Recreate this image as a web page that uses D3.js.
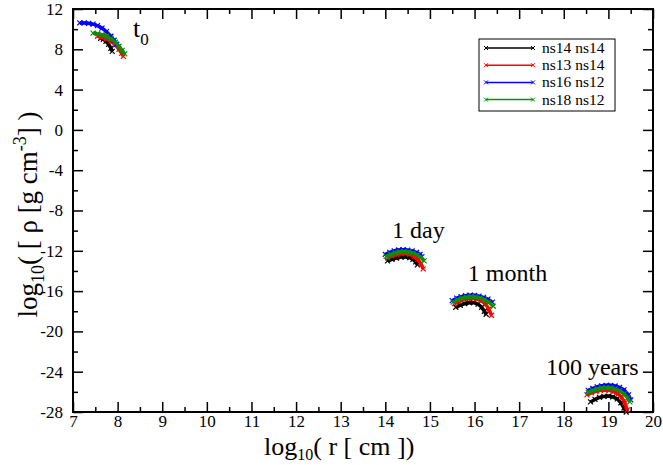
<!DOCTYPE html>
<html>
<head>
<meta charset="utf-8">
<script src="https://cdn.jsdelivr.net/npm/d3@7"></script>
<style>
  body { margin: 0; background: #fff; }
  text { font-family: "Liberation Serif", "Times New Roman", serif; }
</style>
</head>
<body>
<script>
// tick values
let xTicks = [7, 8, 9, 10, 11, 12, 13, 14, 15, 16, 17, 18, 19, 20];
let yTicks = [12, 8, 4, 0, -4, -8, -12, -16, -20, -24, -28];

// [log10 r, log10 rho], one array per model and epoch
let blackT0 = [[7.62, 9.1], [7.68, 9.0], [7.74, 8.8], [7.8, 8.5], [7.85, 8.1], [7.88, 7.8]];
let redT0 = [[7.55, 9.3], [7.65, 9.2], [7.75, 9.05], [7.85, 8.8], [7.95, 8.45], [8.03, 8.0], [8.09, 7.6], [8.13, 7.3]];
let blueT0 = [[7.15, 10.62], [7.25, 10.62], [7.35, 10.58], [7.45, 10.5], [7.55, 10.35], [7.65, 10.1], [7.75, 9.75], [7.85, 9.3], [7.92, 8.9], [7.98, 8.5]];
let greenT0 = [[7.45, 9.6], [7.55, 9.55], [7.65, 9.45], [7.75, 9.3], [7.85, 9.05], [7.95, 8.7], [8.03, 8.3], [8.1, 7.9], [8.16, 7.55]];

let blackDay = [[14.05, -13.0], [14.15, -12.85], [14.25, -12.72], [14.35, -12.62], [14.45, -12.6], [14.55, -12.68], [14.62, -12.85], [14.68, -13.1], [14.72, -13.4]];
let redDay = [[14.05, -12.7], [14.15, -12.5], [14.25, -12.35], [14.35, -12.28], [14.45, -12.28], [14.55, -12.35], [14.65, -12.55], [14.73, -12.85], [14.8, -13.3], [14.85, -13.8]];
let blueDay = [[14.0, -12.35], [14.1, -12.15], [14.2, -12.0], [14.3, -11.92], [14.4, -11.9], [14.5, -11.93], [14.6, -12.02], [14.7, -12.15], [14.78, -12.35], [14.82, -12.6]];
let greenDay = [[14.02, -12.55], [14.12, -12.35], [14.22, -12.2], [14.32, -12.1], [14.42, -12.08], [14.52, -12.12], [14.62, -12.22], [14.72, -12.4], [14.8, -12.65], [14.87, -13.0]];

let blackMonth = [[15.58, -17.6], [15.68, -17.4], [15.78, -17.25], [15.88, -17.15], [15.98, -17.15], [16.08, -17.3], [16.16, -17.6], [16.22, -18.0], [16.26, -18.3]];
let redMonth = [[15.55, -17.25], [15.65, -17.0], [15.75, -16.85], [15.85, -16.75], [15.95, -16.72], [16.05, -16.78], [16.15, -16.95], [16.25, -17.3], [16.32, -17.8], [16.38, -18.4]];
let blueMonth = [[15.5, -16.95], [15.6, -16.7], [15.7, -16.55], [15.8, -16.45], [15.9, -16.4], [16.0, -16.42], [16.1, -16.5], [16.2, -16.62], [16.3, -16.8], [16.4, -17.1]];
let greenMonth = [[15.52, -17.1], [15.62, -16.85], [15.72, -16.7], [15.82, -16.6], [15.92, -16.55], [16.02, -16.58], [16.12, -16.68], [16.22, -16.85], [16.32, -17.1], [16.42, -17.5]];

let blackYears = [[18.6, -27.0], [18.7, -26.75], [18.8, -26.55], [18.9, -26.45], [19.0, -26.42], [19.1, -26.5], [19.2, -26.7], [19.28, -27.1], [19.35, -27.6], [19.4, -28.0]];
let redYears = [[18.52, -26.3], [18.62, -26.1], [18.72, -25.95], [18.82, -25.85], [18.92, -25.82], [19.02, -25.85], [19.12, -25.98], [19.22, -26.2], [19.3, -26.55], [19.37, -27.1], [19.42, -27.8]];
let blueYears = [[18.55, -25.85], [18.65, -25.65], [18.75, -25.5], [18.85, -25.4], [18.95, -25.35], [19.05, -25.35], [19.15, -25.42], [19.25, -25.55], [19.35, -25.8], [19.45, -26.3], [19.5, -26.8]];
let greenYears = [[18.55, -26.05], [18.65, -25.85], [18.75, -25.72], [18.85, -25.62], [18.95, -25.58], [19.05, -25.6], [19.15, -25.7], [19.25, -25.88], [19.35, -26.2], [19.43, -26.6], [19.48, -27.0]];

let seriesNames = ["ns14 ns14", "ns13 ns14", "ns16 ns12", "ns18 ns12"];
let seriesColors = ["#000000", "#ff0000", "#0000ff", "#0a8f0a"];
let seriesCurves = [
  [blackT0, blackDay, blackMonth, blackYears],
  [redT0, redDay, redMonth, redYears],
  [blueT0, blueDay, blueMonth, blueYears],
  [greenT0, greenDay, greenMonth, greenYears]
];

// epoch labels: text, anchor point in data units
let epochLabels = [
  {text: "1 day", x: 14.15, y: -10.75},
  {text: "1 month", x: 15.85, y: -15.0},
  {text: "100 years", x: 17.6, y: -24.3}
];

let width = 663;
let height = 465;
let margin = {left: 73, right: 10, top: 9, bottom: 53};
let serif = '"Liberation Serif", "Times New Roman", serif';

let svg = d3.select("body").append("svg")
  .attr("width", width)
  .attr("height", height);

let x = d3.scaleLinear().domain([7, 20]).range([margin.left, width - margin.right]);
let y = d3.scaleLinear().domain([-28, 12]).range([height - margin.bottom, margin.top]);

let x0 = x.range()[0], x1 = x.range()[1];
let y0 = y.range()[1], y1 = y.range()[0];

let xMinor = d3.range(7.5, 20, 1);
let yMinor = d3.range(-26, 12, 4);

function styleAxis(g) {
  g.select(".domain").remove();
  g.selectAll(".tick line").attr("stroke", "#000").attr("stroke-width", 1.5);
  g.selectAll(".tick text").attr("fill", "#000")
    .style("font-family", serif)
    .style("font-size", "17px");
}

// plain hyphen minus, like the original
let tickText = d => String(d);

// bottom axis with labels
svg.append("g")
  .attr("transform", `translate(0,${y1})`)
  .call(d3.axisBottom(x).tickValues(xTicks).tickSize(-10).tickPadding(3).tickFormat(tickText))
  .call(styleAxis);
svg.append("g")
  .attr("transform", `translate(0,${y1})`)
  .call(d3.axisBottom(x).tickValues(xMinor).tickSize(-5).tickFormat(""))
  .call(styleAxis);
// top mirror ticks
svg.append("g")
  .attr("transform", `translate(0,${y0})`)
  .call(d3.axisTop(x).tickValues(xTicks).tickSize(-10).tickFormat(""))
  .call(styleAxis);
svg.append("g")
  .attr("transform", `translate(0,${y0})`)
  .call(d3.axisTop(x).tickValues(xMinor).tickSize(-5).tickFormat(""))
  .call(styleAxis);

// left axis with labels
svg.append("g")
  .attr("transform", `translate(${x0},0)`)
  .call(d3.axisLeft(y).tickValues(yTicks).tickSize(-10).tickPadding(10).tickFormat(tickText))
  .call(styleAxis);
svg.append("g")
  .attr("transform", `translate(${x0},0)`)
  .call(d3.axisLeft(y).tickValues(yMinor).tickSize(-5).tickFormat(""))
  .call(styleAxis);
// right mirror ticks
svg.append("g")
  .attr("transform", `translate(${x1},0)`)
  .call(d3.axisRight(y).tickValues(yTicks).tickSize(-10).tickFormat(""))
  .call(styleAxis);
svg.append("g")
  .attr("transform", `translate(${x1},0)`)
  .call(d3.axisRight(y).tickValues(yMinor).tickSize(-5).tickFormat(""))
  .call(styleAxis);

// frame
svg.append("rect")
  .attr("x", x0).attr("y", y0)
  .attr("width", x1 - x0).attr("height", y1 - y0)
  .attr("fill", "none").attr("stroke", "#000").attr("stroke-width", 2);

// curves
let line = d3.line().x(d => x(d[0])).y(d => y(d[1]));

function crossPath(cx, cy, s) {
  return `M${cx - s},${cy - s}L${cx + s},${cy + s}M${cx - s},${cy + s}L${cx + s},${cy - s}`;
}

seriesCurves.forEach((curves, i) => {
  let g = svg.append("g");
  for (let c of curves) {
    g.append("path")
      .attr("d", line(c))
      .attr("fill", "none")
      .attr("stroke", seriesColors[i])
      .attr("stroke-width", 3.5)
      .attr("stroke-linejoin", "round");
    g.selectAll(null)
      .data(c)
      .enter()
      .append("path")
      .attr("d", d => crossPath(x(d[0]), y(d[1]), 2.5))
      .attr("stroke", seriesColors[i])
      .attr("stroke-width", 1.2);
  }
});

// epoch labels
let t0 = svg.append("text")
  .attr("x", 133).attr("y", 37)
  .style("font-family", serif)
  .style("font-size", "26px");
t0.append("tspan").text("t");
t0.append("tspan").attr("dy", 8).style("font-size", "17px").text("0");

for (let l of epochLabels) {
  svg.append("text")
    .attr("x", x(l.x)).attr("y", y(l.y))
    .style("font-family", serif)
    .style("font-size", "24px")
    .text(l.text);
}

// legend
let legend = svg.append("g").attr("transform", "translate(479,39)");
legend.append("rect")
  .attr("width", 136).attr("height", 72)
  .attr("fill", "#fff").attr("stroke", "#000").attr("stroke-width", 1);
seriesNames.forEach((name, i) => {
  let ly = 9 + i * 17.2;
  legend.append("line")
    .attr("x1", 7).attr("x2", 54)
    .attr("y1", ly).attr("y2", ly)
    .attr("stroke", seriesColors[i]).attr("stroke-width", 1.5);
  for (let mx of [7, 54]) {
    legend.append("path")
      .attr("d", crossPath(mx, ly, 2))
      .attr("stroke", seriesColors[i]).attr("stroke-width", 1);
  }
  legend.append("text")
    .attr("x", 63).attr("y", ly + 5)
    .style("font-family", serif)
    .style("font-size", "15.5px")
    .text(name);
});

// axis titles
let xt = svg.append("text")
  .attr("x", 264).attr("y", 455)
  .style("font-family", serif)
  .style("font-size", "26px");
xt.append("tspan").text("log");
xt.append("tspan").attr("dy", 5).style("font-size", "16px").text("10");
xt.append("tspan").attr("dy", -5).text("( r [ cm ])");

let yt = svg.append("text")
  .attr("transform", `translate(37,${(y0 + y1) / 2 + 4}) rotate(-90)`)
  .attr("text-anchor", "middle")
  .style("font-family", serif)
  .style("font-size", "27px");
yt.append("tspan").text("log");
yt.append("tspan").attr("dy", 7).style("font-size", "18px").text("10");
yt.append("tspan").attr("dy", -7).text("( [ \u03c1  [g cm");
yt.append("tspan").attr("dy", -11).style("font-size", "18px").text("-3");
yt.append("tspan").attr("dy", 11).text("] )");
</script>
</body>
</html>
